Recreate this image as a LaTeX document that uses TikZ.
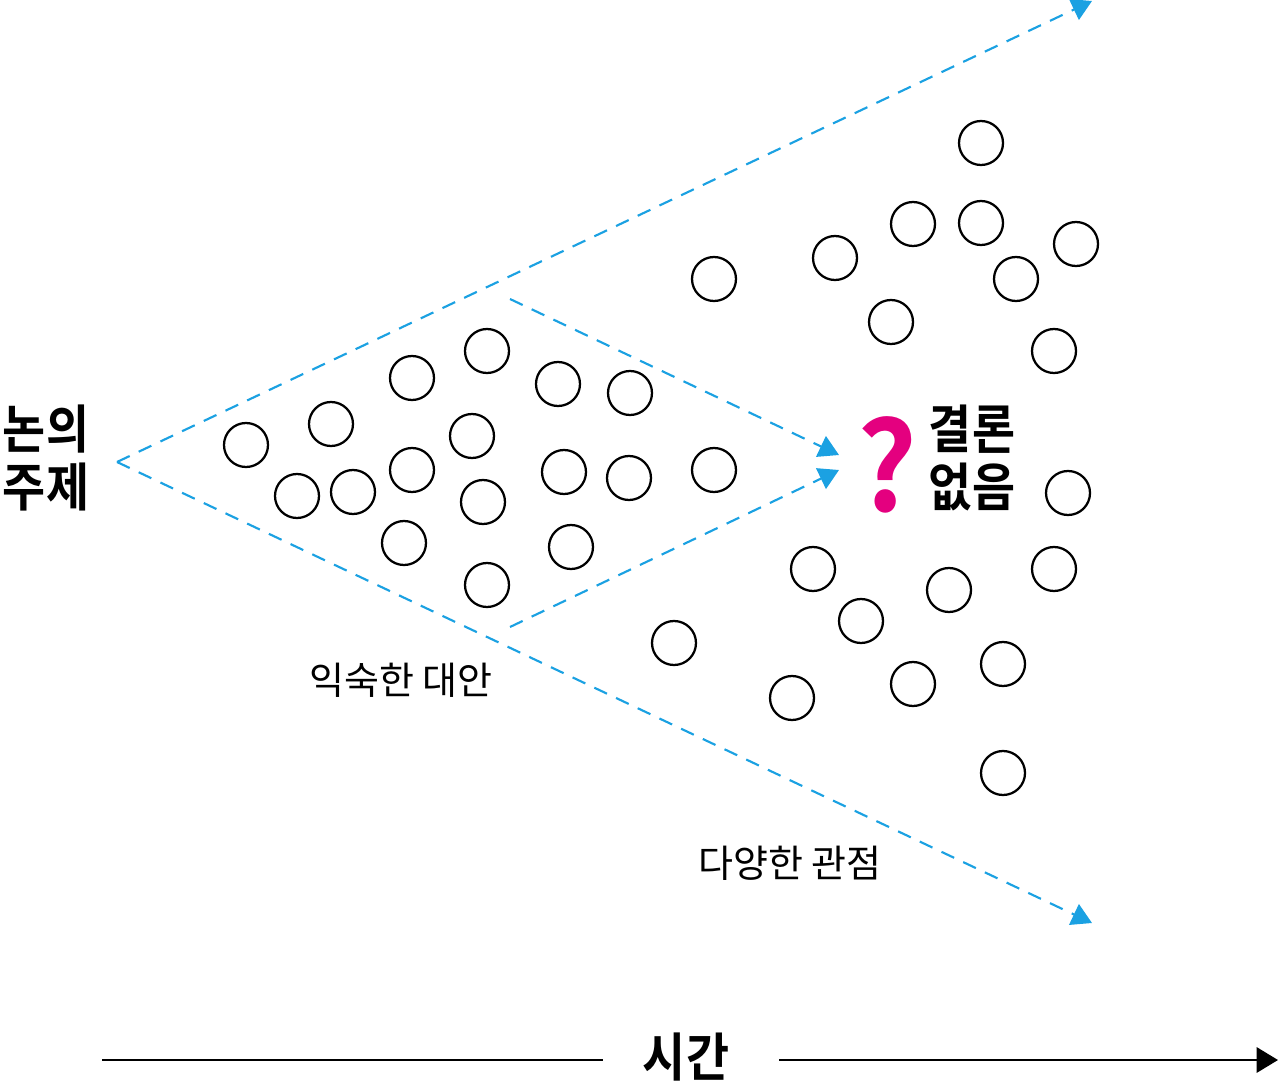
\documentclass[tikz,border=0pt]{standalone}
\usepackage{fontspec}
\usetikzlibrary{arrows.meta}
\newfontfamily\krreg{Noto Sans CJK KR}
\newfontfamily\krbold{Noto Sans CJK KR Bold}[FakeStretch=0.9]
\newfontfamily\krq{Noto Sans CJK KR Bold}[FakeStretch=0.95]
\definecolor{flowblue}{HTML}{1BA1E2}
\definecolor{qmag}{HTML}{E4007F}
\tikzset{
  dot/.style={circle,draw=black,line width=1.7pt,minimum size=33pt,inner sep=0pt},
  flow/.style={draw=flowblue,line width=1.6pt,dash pattern=on 10.5pt off 7.5pt,
    -{Triangle[length=15pt,width=17pt,fill=flowblue]}},
  biglabel/.style={font=\krbold\fontsize{39}{43}\selectfont,align=center,inner sep=0pt},
  smalllabel/.style={font=\krreg\fontsize{28.5}{30}\selectfont,inner sep=0pt},
  axis/.style={draw=black,line width=1.5pt}
}
\begin{document}
\begin{tikzpicture}[x=0.75pt,y=-0.75pt]
\useasboundingbox (0,0) rectangle (1280,1087);
% flow coordinates
\coordinate (src) at (117,462);
\coordinate (topend) at (1092,1);
\coordinate (botend) at (1092,923);
\coordinate (inA) at (510,299);
\coordinate (inB) at (510,627);
\coordinate (inAend) at (839,455);
\coordinate (inBend) at (839,470);
\draw[flow] (src) -- (topend);
\draw[flow] (src) -- (botend);
\draw[flow] (inA) -- (inAend);
\draw[flow] (inB) -- (inBend);
% circles
\foreach \n/\x/\y in {1/981/143,2/913/224,3/981/223,4/1076/244,5/835/258,6/714/279,
  7/1016/279,8/891/322,9/1054/351,10/487/351,11/412/378,12/558/384,13/630/393,
  14/331/424,15/246/445,16/472/436,17/412/470,18/564/472,19/629/478,20/714/470,
  21/297/496,22/353/492,23/483/502,24/1068/493,25/404/543,26/571/547,27/813/569,
  28/1054/569,29/949/590,30/487/585,31/861/621,32/674/643,33/1003/664,34/913/684,
  35/792/698,36/1003/773}
  \node[dot] (c\n) at (\x,\y) {};
% labels
\node[biglabel] (topic) at (46,458) {논의\\주제};
\node[biglabel] (result) at (972,458) {결론\\없음};
\node[inner sep=0pt,text=qmag,font=\krq\fontsize{92}{92}\selectfont] (qm) at (887,465) {?};
\node[smalllabel] (fam) at (401,680) {익숙한 대안};
\node[smalllabel] (div) at (790,863) {다양한 관점};
% time axis
\node[font=\krbold\fontsize{39}{43}\selectfont,inner sep=0pt] (time) at (686,1057) {시간};
\coordinate (axL) at (102,1060);
\coordinate (axLe) at (603,1060);
\coordinate (axRs) at (779,1060);
\coordinate (axR) at (1278,1060);
\draw[axis] (axL) -- (axLe);
\draw[axis,-{Triangle[length=16pt,width=19pt]}] (axRs) -- (axR);
\end{tikzpicture}
\end{document}
